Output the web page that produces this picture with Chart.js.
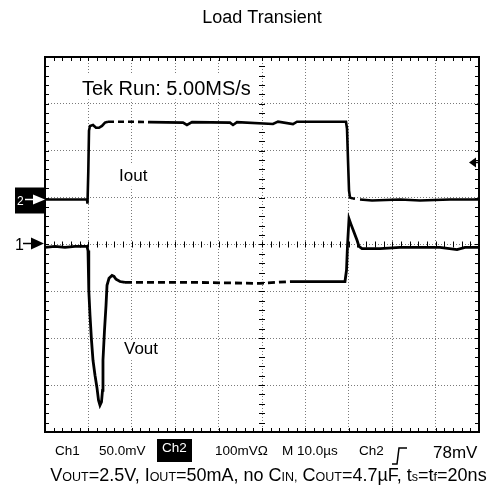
<!DOCTYPE html>
<html>
<head>
<meta charset="utf-8">
<title>Load Transient</title>
<script src="https://cdn.jsdelivr.net/npm/chart.js@4/dist/chart.umd.min.js"></script>
<style>
  html, body { margin: 0; padding: 0; background: #fff; }
  #wrap { width: 497px; height: 496px; }
</style>
</head>
<body>
<div id="wrap"><canvas id="scope" width="497" height="496"></canvas></div>
<script>
// =========================
// Scope traces (time in µs, level in screen divisions, 0 = centre line)
// =========================
const ioutTime = [0, 5.76, 9.68, 9.79, 9.98, 10.14, 10.37, 11.06, 11.75, 12.44, 13.13, 13.82, 14.52,
  19.59, 24.19, 31.8, 32.7, 33.87, 42.63, 43.32, 44.24, 52.53, 53.69, 57.14, 58.06, 69.35,
  69.59, 69.82, 70.05, 70.28, 70.97, 72.58, 75.35, 81.8, 86.4, 93.3, 100];
const ioutLevel = [0.96, 0.96, 0.96, 0.87, 1.57, 2.43, 2.53, 2.55, 2.49, 2.49, 2.53, 2.60, 2.62,
  2.62, 2.61, 2.60, 2.55, 2.61, 2.60, 2.55, 2.61, 2.57, 2.62, 2.57, 2.62, 2.62,
  2.47, 1.79, 1.15, 1.00, 0.98, 0.96, 0.94, 0.96, 0.94, 0.96, 0.96];

const voutTime = [0, 2.3, 4.6, 6.9, 9.68, 9.91, 10.09, 10.37, 10.71, 11.06, 11.52, 11.98, 12.33,
  12.67, 13.02, 13.25, 13.36, 13.71, 14.06, 14.29, 14.75, 15.44, 15.9, 16.36, 17.28, 18.43,
  35.7, 49.5, 56.45, 63.4, 69.12, 69.47, 69.7, 70.05, 70.51, 71.2, 71.9, 72.35, 73.04,
  77.19, 81.8, 91.01, 94.93, 96.77, 100];
const voutLevel = [-0.06, -0.04, -0.06, -0.04, -0.04, -0.13, -0.98, -1.51, -2.04, -2.47, -2.79, -3.06, -3.32,
  -3.43, -3.36, -3.11, -2.47, -1.83, -1.30, -0.87, -0.72, -0.66, -0.68, -0.74, -0.79, -0.81,
  -0.81, -0.83, -0.79, -0.79, -0.79, -0.55, -0.02, 0.55, 0.43, 0.26, 0.09, -0.04, -0.09,
  -0.09, -0.06, -0.06, -0.11, -0.06, -0.06];

const timeTicks = [0, 10, 20, 30, 40, 50, 60, 70, 80, 90, 100]; // 10.0 µs/div
const divTicks = [-4, -3, -2, -1, 0, 1, 2, 3, 4];
const ch2Marker = 0.96;   // Ch2 ground reference
const ch1Marker = 0;      // Ch1 reference
const trigLevel = 1.75;   // trigger level arrow

const FONT = '"Liberation Sans", Arial, Helvetica, sans-serif';
const f = (px) => px + "px " + FONT;

function toPoints(xs, ys) {
  return xs.map((x, i) => ({ x, y: ys[i] }));
}

// dash the sparse (under-sampled) stretches of the traces
function dashIn(ranges) {
  return (c) => {
    const a = c.p0.parsed.x, b = c.p1.parsed.x;
    for (const r of ranges) if (a >= r[0] && b <= r[1]) return r[2];
    return undefined;
  };
}

// =========================
// Decorations: labels, markers, minor ticks, readouts
// =========================
function textOnWhite(ctx, text, x, y, px, padX, padTop, padBot) {
  ctx.font = f(px);
  const w = ctx.measureText(text).width;
  ctx.fillStyle = "#fff";
  ctx.fillRect(x - padX, y - px * 0.72 - padTop, w + padX * 2, px * 0.72 + padTop + padBot);
  ctx.fillStyle = "#000";
  ctx.fillText(text, x, y);
}

const scopeDecor = {
  id: "scopeDecor",
  beforeDraw(chart) {
    const ctx = chart.ctx;
    ctx.save();
    ctx.fillStyle = "#fff";
    ctx.fillRect(0, 0, chart.width, chart.height);
    ctx.restore();
  },
  beforeDatasetsDraw(chart) {
    const { ctx, scales: { x, y } } = chart;
    ctx.save();
    ctx.textBaseline = "alphabetic";
    textOnWhite(ctx, "Tek Run: 5.00MS/s", x.getPixelForValue(8.5), y.getPixelForValue(3.2), 20, 2, 6, 5);
    textOnWhite(ctx, "Iout", x.getPixelForValue(17.05), y.getPixelForValue(1.36), 17, 2, 5, 6);
    textOnWhite(ctx, "Vout", x.getPixelForValue(18.2), y.getPixelForValue(-2.34), 17, 2, 1, 6);
    ctx.restore();
  },
  afterDatasetsDraw(chart) {
    const { ctx, chartArea: a, scales: { x, y } } = chart;
    ctx.save();
    ctx.strokeStyle = "#000";
    ctx.fillStyle = "#000";

    // minor ticks: 5 per division on the borders and the centre cross
    ctx.lineWidth = 1;
    ctx.beginPath();
    const cx = x.getPixelForValue(50), cy = y.getPixelForValue(0);
    for (let v = 0; v <= 100; v += 2) {
      const px = Math.round(x.getPixelForValue(v)) + 0.5;
      ctx.moveTo(px, a.top); ctx.lineTo(px, a.top + 4);
      ctx.moveTo(px, a.bottom); ctx.lineTo(px, a.bottom - 4);
      ctx.moveTo(px, cy - 3); ctx.lineTo(px, cy + 3);
    }
    for (let v = -4; v <= 4.001; v += 0.2) {
      const py = Math.round(y.getPixelForValue(v)) + 0.5;
      ctx.moveTo(a.left, py); ctx.lineTo(a.left + 4, py);
      ctx.moveTo(a.right, py); ctx.lineTo(a.right - 4, py);
      ctx.moveTo(cx - 3, py); ctx.lineTo(cx + 3, py);
    }
    ctx.stroke();

    // frame
    ctx.lineWidth = 2;
    ctx.strokeRect(a.left, a.top, a.right - a.left, a.bottom - a.top);

    // Ch2 marker (boxed, white)
    const y2 = y.getPixelForValue(ch2Marker);
    ctx.fillRect(a.left - 30, y2 - 12, 31, 26);
    ctx.fillStyle = "#fff";
    ctx.strokeStyle = "#fff";
    ctx.font = f(12);
    ctx.fillText("2", a.left - 28, y2 + 5);
    ctx.lineWidth = 1.5;
    ctx.beginPath(); ctx.moveTo(a.left - 20, y2); ctx.lineTo(a.left - 10, y2); ctx.stroke();
    ctx.beginPath();
    ctx.moveTo(a.left - 12, y2 - 5); ctx.lineTo(a.left, y2); ctx.lineTo(a.left - 12, y2 + 5);
    ctx.closePath(); ctx.fill();

    // Ch1 marker
    const y1 = y.getPixelForValue(ch1Marker) - 1;
    ctx.fillStyle = "#000";
    ctx.strokeStyle = "#000";
    ctx.font = f(16);
    ctx.fillText("1", a.left - 30, y1 + 6);
    ctx.beginPath(); ctx.moveTo(a.left - 22, y1); ctx.lineTo(a.left - 12, y1); ctx.stroke();
    ctx.beginPath();
    ctx.moveTo(a.left - 14, y1 - 6); ctx.lineTo(a.left - 1, y1); ctx.lineTo(a.left - 14, y1 + 6);
    ctx.closePath(); ctx.fill();

    // trigger level arrow on the right edge
    const yt = y.getPixelForValue(trigLevel);
    ctx.beginPath();
    ctx.moveTo(a.right - 10, yt); ctx.lineTo(a.right - 3, yt - 5); ctx.lineTo(a.right - 3, yt + 5);
    ctx.closePath(); ctx.fill();
    ctx.beginPath(); ctx.moveTo(a.right - 4, yt); ctx.lineTo(a.right, yt); ctx.stroke();
    ctx.restore();
  },
  afterDraw(chart) {
    const { ctx, chartArea: a } = chart;
    const mid = (a.left + a.right) / 2;
    ctx.save();
    ctx.fillStyle = "#000";
    ctx.textBaseline = "alphabetic";

    // title
    ctx.font = f(18);
    ctx.textAlign = "center";
    ctx.fillText("Load Transient", mid, 23);
    ctx.textAlign = "left";

    // readout row
    const by = a.bottom + 23;
    ctx.font = f(13.5);
    ctx.fillText("Ch1", 55, by);
    ctx.fillText("50.0mV", 99, by);
    ctx.fillRect(157, a.bottom + 7, 35, 23);
    ctx.fillStyle = "#fff";
    ctx.fillText("Ch2", 162, by - 3);
    ctx.fillStyle = "#000";
    ctx.fillText("100mVΩ", 215, by);
    ctx.fillText("M 10.0µs", 282, by);
    ctx.fillText("Ch2", 359, by);
    ctx.lineWidth = 1.5;
    ctx.strokeStyle = "#000";
    ctx.beginPath();
    ctx.moveTo(392, by + 9); ctx.lineTo(397, by + 9); ctx.lineTo(399, by - 7); ctx.lineTo(407, by - 7);
    ctx.stroke();
    ctx.font = f(17);
    ctx.fillText("78mV", 433, by + 3);

    // caption with small-caps subscripts
    const runs = [["V", 0], ["OUT", 1], ["=2.5V, I", 0], ["OUT", 1], ["=50mA, no C", 0], ["IN,", 1],
      [" C", 0], ["OUT", 1], ["=4.7µF, t", 0], ["s", 1], ["=t", 0], ["f", 1], ["=20ns", 0]];
    let total = 0;
    runs.forEach(([t, s]) => { ctx.font = f(s ? 12.5 : 18); total += ctx.measureText(t).width; });
    let cx = 268.5 - total / 2;
    runs.forEach(([t, s]) => {
      ctx.font = f(s ? 12.5 : 18);
      ctx.fillText(t, cx, 481);
      cx += ctx.measureText(t).width;
    });
    ctx.restore();
  }
};

// =========================
// Chart
// =========================
const gridScale = (ticks, min, max) => ({
  type: "linear",
  min, max,
  afterBuildTicks: (s) => { s.ticks = ticks.map((v) => ({ value: v })); },
  ticks: { display: false },
  grid: { color: "#7a7a7a", lineWidth: 1, drawTicks: false },
  border: { display: false, dash: [1, 2] }
});

new Chart(document.getElementById("scope").getContext("2d"), {
  type: "line",
  data: {
    datasets: [
      {
        label: "Iout",
        data: toPoints(ioutTime, ioutLevel),
        borderColor: "#000",
        borderWidth: 2.6,
        pointRadius: 0,
        tension: 0,
        segment: { borderDash: dashIn([[14.5, 24.2, [6, 4]], [70.9, 72.6, [2, 6]]]) }
      },
      {
        label: "Vout",
        data: toPoints(voutTime, voutLevel),
        borderColor: "#000",
        borderWidth: 2.8,
        pointRadius: 0,
        tension: 0,
        segment: { borderDash: dashIn([[18.4, 56.5, [7, 4]]]) }
      }
    ]
  },
  options: {
    responsive: false,
    animation: false,
    devicePixelRatio: 1,
    layout: { padding: { left: 45, right: 18, top: 57, bottom: 64 } },
    plugins: { legend: { display: false }, title: { display: false }, tooltip: { enabled: false } },
    scales: {
      x: gridScale(timeTicks, 0, 100),
      y: gridScale(divTicks, -4, 4)
    }
  },
  plugins: [scopeDecor]
});
</script>
</body>
</html>
